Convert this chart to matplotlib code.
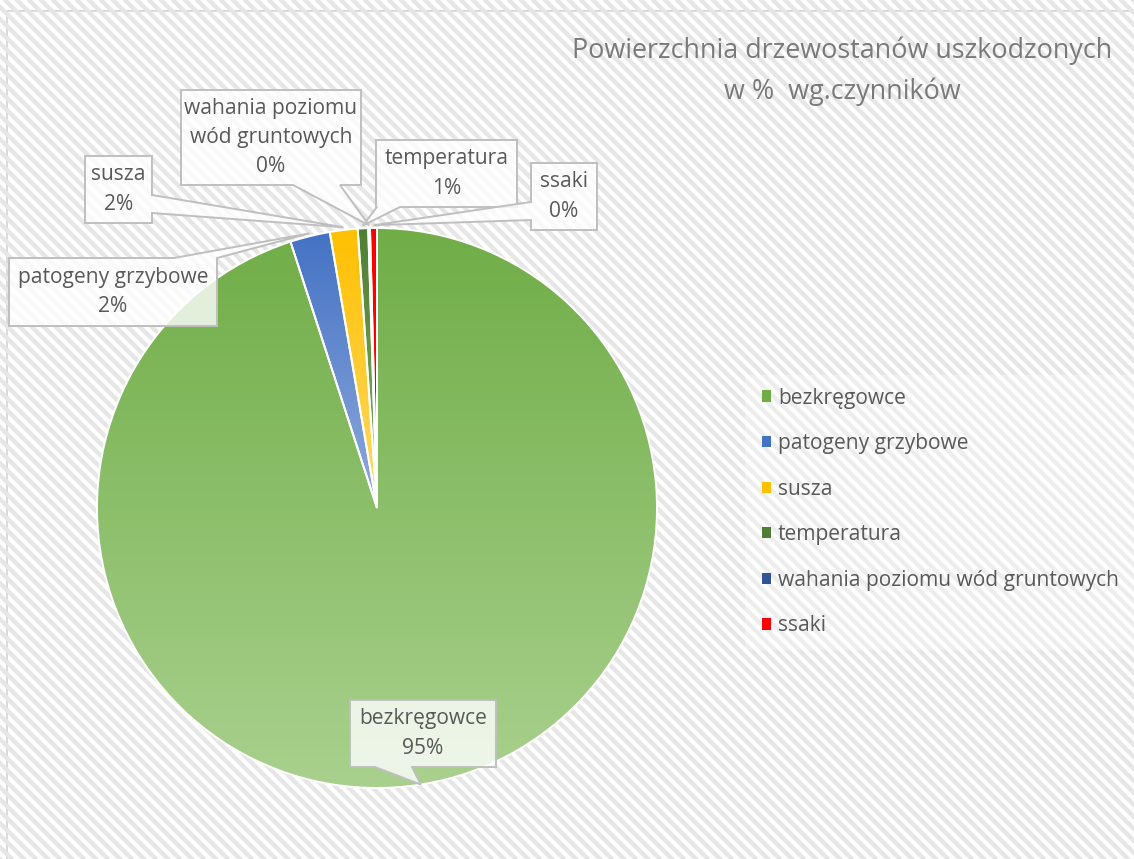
import textwrap
import numpy as np
import matplotlib
matplotlib.use("Agg")
import matplotlib.pyplot as plt
from matplotlib.collections import LineCollection
from matplotlib.colors import to_rgb
from matplotlib.patches import Patch, Polygon, Rectangle

plt.rcParams["font.family"] = ["Open Sans", "DejaVu Sans"]

# data
categories = ["bezkręgowce", "patogeny grzybowe", "susza", "temperatura",
              "wahania poziomu wód gruntowych", "ssaki"]
values = [95.0, 2.3, 1.6, 0.6, 0.1, 0.4]
colors_top = ["#70ad47", "#4472c4", "#ffc000", "#507e32", "#2f5597", "#ff0000"]
colors_bottom = ["#a9d18e", "#8faadc", "#ffd966", "#84b063", "#6f8fcc", "#ff0000"]
title = "Powierzchnia drzewostanów uszkodzonych\nw %  wg.czynników"

# callout boxes in screen pixels (x0, top, x1, bottom), side of the tail, tail base
callouts = [
    ((350, 700, 496, 767), "bottom", (375, 412)),
    ((9, 258, 217, 326), "top", (174, 217)),
    ((85, 156, 152, 223), "right", (195, 213)),
    ((376, 140, 517, 207), "bottom", (377, 400)),
    ((181, 90, 361, 185), "bottom", (293, 340)),
    ((531, 163, 597, 230), "left", (202, 220)),
]

W, H = 1134, 859
DPI = 140
text_col = "#595959"

fig = plt.figure(figsize=(W / DPI, H / DPI), dpi=DPI)
ax = fig.add_axes([0, 0, 1, 1])

# striped chart area
area = Rectangle((7, -10), W, H - 11 + 10, facecolor="white",
                 edgecolor="#d9d9d9", linewidth=1.0, zorder=0)
ax.add_patch(area)
offs = np.arange(0, W + H + 20, 12)
stripes = LineCollection([[(-20, c + 20), (c + 20, -20)] for c in offs],
                         colors="#e6e6e6", linewidths=2.2, zorder=0.3)
stripes.set_clip_path(area)
ax.add_collection(stripes)
ax.add_patch(Rectangle((745, H - 650), 400, 275, facecolor="white",
                       alpha=0.3, linewidth=0, zorder=0.6))

cx, cy, r = 377, H - 508, 280
wedges, _ = ax.pie(values, colors=colors_top, startangle=90, counterclock=False,
                   radius=r, center=(cx, cy),
                   wedgeprops=dict(edgecolor="white", linewidth=1.0))

# vertical gradient inside every wedge
for w, c1, c2 in zip(wedges, colors_top, colors_bottom):
    ext = w.get_path().get_extents()
    t = np.linspace(0, 1, 256)[:, None]
    grad = (1 - t) * np.array(to_rgb(c1)) + t * np.array(to_rgb(c2))
    im = ax.imshow(grad[:, None, :], extent=(ext.x0, ext.x1, ext.y0, ext.y1),
                   origin="upper", interpolation="bilinear", zorder=1)
    im.set_clip_path(w)
    w.set_facecolor("none")
    w.set_zorder(2)

# data labels with callouts
for w, name, val, (box, side, base) in zip(wedges, categories, values, callouts):
    a = np.deg2rad((w.theta1 + w.theta2) / 2)
    k = 1.0 if val > 50 else 1.01
    tip = (cx + r * k * np.cos(a), cy + r * k * np.sin(a))
    x0, top, x1, bot = box
    yt, yb = H - top, H - bot
    if side == "top":
        pts = [(x0, yt), (base[0], yt), tip, (base[1], yt), (x1, yt), (x1, yb), (x0, yb)]
    elif side == "right":
        pts = [(x0, yt), (x1, yt), (x1, H - base[0]), tip, (x1, H - base[1]), (x1, yb), (x0, yb)]
    elif side == "bottom":
        pts = [(x0, yt), (x1, yt), (x1, yb), (base[1], yb), tip, (base[0], yb), (x0, yb)]
    else:
        pts = [(x0, yt), (x1, yt), (x1, yb), (x0, yb), (x0, H - base[1]), tip, (x0, H - base[0])]
    ax.add_patch(Polygon(pts, closed=True, facecolor=(1, 1, 1, 0.8),
                         edgecolor="#bfbfbf", linewidth=1.0, zorder=3))
    label = textwrap.fill(name, 17) + "\n" + f"{val:.0f}%"
    ax.text((x0 + x1) / 2, (yt + yb) / 2, label, ha="center", va="center",
            fontsize=10.8, color=text_col, linespacing=1.52, zorder=4)

ax.text(842, H - 71, title, ha="center", va="center", fontsize=13.8,
        color="#7a7a7a", linespacing=1.6)

handles = [Patch(facecolor=c, edgecolor="none") for c in colors_top]
fig.legend(handles, categories, loc="center left",
           bbox_to_anchor=(762 / W, 1 - 512 / H), frameon=False,
           fontsize=10.8, labelcolor=text_col, handlelength=0.45,
           handleheight=0.45, handletextpad=0.3, labelspacing=1.17,
           borderpad=0, borderaxespad=0)

ax.set_xlim(0, W)
ax.set_ylim(0, H)
ax.set_aspect("auto")
ax.axis("off")

fig.savefig("out.png", dpi=DPI, facecolor="white")
